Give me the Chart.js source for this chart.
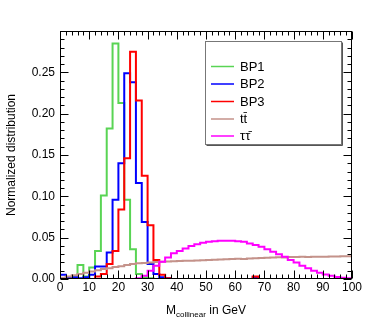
<!DOCTYPE html>
<html>
<head>
<meta charset="utf-8">
<script src="https://cdn.jsdelivr.net/npm/chart.js@4.4.1/dist/chart.umd.min.js"></script>
<style>
html,body{margin:0;padding:0;background:#fff;}
#wrap{width:392px;height:327px;}
</style>
</head>
<body>
<div id="wrap"><canvas id="c" width="392" height="327"></canvas></div>
<script>
// Bin edges in GeV (2 GeV bins from 0 to 100)
const binEdges = [0,2,4,6,8,10,12,14,16,18,20,22,24,26,28,30,32,34,36,38,40,42,44,46,48,50,52,54,56,58,60,62,64,66,68,70,72,74,76,78,80,82,84,86,88,90,92,94,96,98,100];

const seriesLabels = ["BP1", "BP2", "BP3", "tt\u0304", "\u03c4\u03c4\u0304"];

const bp1 = [0.001,0.001,0.002,0.017,0.003,0.014,0.034,0.101,0.182,0.285,
             0.213,0.096,0.036,0.006,0.002,0.001,0,0,0,0,
             0,0,0,0,0,0,0,0,0,0,
             0,0,0,0,0,0,0,0,0,0,
             0,0,0,0,0,0,0,0,0,0];
const bp2 = [0.005,0.002,0.002,0.001,0.002,0.005,0.015,0.015,0.032,0.096,
             0.140,0.249,0.238,0.116,0.069,0.018,0.006,0.002,0.001,0,
             0,0,0,0,0,0,0,0,0,0,
             0,0,0,0.002,0,0,0,0,0,0,
             0,0,0,0,0,0,0,0,0,0];
const bp3 = [0,0,0,0,0,0,0.003,0.006,0.018,0.034,
             0.084,0.146,0.275,0.216,0.125,0.065,0.023,0.005,0.001,0,
             0,0,0,0,0,0,0,0,0,0,
             0,0,0,0.003,0,0,0,0,0,0,
             0,0,0,0,0,0,0,0,0,0];
const ttbar = [0.0015,0.003,0.0045,0.006,0.0075,0.009,0.0105,0.012,0.013,0.0145,
               0.0155,0.0168,0.018,0.019,0.0195,0.020,0.0205,0.021,0.0212,0.0215,
               0.0218,0.022,0.0222,0.0225,0.0228,0.023,0.0232,0.0235,0.0238,0.0242,
               0.0245,0.0242,0.0248,0.025,0.0255,0.0258,0.026,0.0262,0.026,0.0265,
               0.0265,0.0268,0.0265,0.027,0.0268,0.027,0.0272,0.0272,0.0275,0.0275];
const tautau = [0,0,0,0,0,0,0,0,0,0,
                0,0,0,0.001,0.004,0.010,0.016,0.021,0.026,0.031,
                0.034,0.037,0.040,0.042,0.044,0.045,0.0458,0.0462,0.0464,0.0462,
                0.0458,0.045,0.043,0.041,0.039,0.036,0.033,0.030,0.027,0.023,
                0.020,0.016,0.013,0.010,0.0075,0.0055,0.0038,0.0025,0.0015,0.0008];

const xTicks = [0,10,20,30,40,50,60,70,80,90,100];
const yTicks = [0,0.05,0.10,0.15,0.20,0.25];

const colors = ["#59d454", "#0000ff", "#ff0000", "#c4928a", "#ff00ff"];
const seriesValues = [bp1, bp2, bp3, ttbar, tautau];
const drawOrder = [5, 4, 3, 2, 1];

function histPoints(vals){
  return binEdges.map((e, i) => ({x: e, y: vals[Math.min(i, vals.length - 1)]}));
}

const FONT = "'Liberation Sans', Arial, Helvetica, sans-serif";

const framePlugin = {
  id: 'frame',
  afterDatasetsDraw(chart){
    const {ctx, chartArea: a, scales: {x, y}} = chart;
    ctx.save();
    ctx.strokeStyle = '#000';
    ctx.lineWidth = 1;
    const L = Math.round(a.left) + 0.5, R = Math.round(a.right) - 0.5;
    const T = Math.round(a.top) + 0.5, B = Math.round(a.bottom) - 0.5;
    ctx.strokeRect(L, T, R - L, B - T);
    ctx.beginPath();
    for (let k = 0; k <= 50; k++) {
      const v = k * 2;
      const px = Math.round(x.getPixelForValue(v)) + 0.5;
      const len = (k % 5 === 0) ? 8 : 4;
      ctx.moveTo(px, B); ctx.lineTo(px, B - len);
      ctx.moveTo(px, T); ctx.lineTo(px, T + len);
    }
    for (let k = 0; k <= 29; k++) {
      const v = k * 0.01;
      const py = Math.round(y.getPixelForValue(v)) + 0.5;
      const len = (k % 5 === 0) ? 8 : 4;
      ctx.moveTo(L, py); ctx.lineTo(L + len, py);
      ctx.moveTo(R, py); ctx.lineTo(R - len, py);
    }
    ctx.stroke();
    ctx.restore();
  },
  afterDraw(chart){
    const {ctx, chartArea: a} = chart;
    ctx.save();
    ctx.fillStyle = '#000';
    // X title with subscript
    const p1 = 'M', p2 = 'collinear', p3 = ' in GeV';
    ctx.font = '12px ' + FONT;
    const w1 = ctx.measureText(p1).width, w3 = ctx.measureText(p3).width;
    ctx.font = '8px ' + FONT;
    const w2 = ctx.measureText(p2).width;
    const total = w1 + w2 + w3;
    let sx = (a.left + a.right) / 2 - total / 2;
    const by = 314;
    ctx.textBaseline = 'alphabetic';
    ctx.textAlign = 'left';
    ctx.font = '12px ' + FONT;
    ctx.fillText(p1, sx, by); sx += w1;
    ctx.font = '8px ' + FONT;
    ctx.fillText(p2, sx, by + 3); sx += w2;
    ctx.font = '12px ' + FONT;
    ctx.fillText(p3, sx, by);
    // Y title
    ctx.save();
    ctx.translate(12, (a.top + a.bottom) / 2);
    ctx.rotate(-Math.PI / 2);
    ctx.textAlign = 'center';
    ctx.textBaseline = 'middle';
    ctx.font = '12px ' + FONT;
    ctx.fillText('Normalized distribution', 0, 0);
    ctx.restore();
    // Legend
    const lx = 205.5, ly = 41.5, lw = 136, lh = 103;
    ctx.fillStyle = '#fff';
    ctx.fillRect(lx, ly, lw, lh);
    ctx.strokeStyle = '#777';
    ctx.lineWidth = 1;
    ctx.strokeRect(lx, ly, lw, lh);
    ctx.strokeStyle = '#555';
    ctx.beginPath();
    ctx.moveTo(lx + lw + 1, ly + 1); ctx.lineTo(lx + lw + 1, ly + lh + 1); ctx.lineTo(lx + 1, ly + lh + 1);
    ctx.stroke();
    const ys = [66.5, 84, 101.5, 119, 136];
    chart.data.datasets.forEach((ds, i) => {
      ctx.strokeStyle = ds.borderColor;
      ctx.lineWidth = 1.5;
      ctx.beginPath();
      ctx.moveTo(211, ys[i]); ctx.lineTo(234, ys[i]);
      ctx.stroke();
      ctx.fillStyle = '#000';
      ctx.font = '13px ' + FONT;
      ctx.textAlign = 'left';
      ctx.textBaseline = 'middle';
      ctx.fillText(ds.label, 240, ys[i] + 0.5);
    });
    ctx.restore();
  }
};

new Chart(document.getElementById('c'), {
  type: 'line',
  data: {
    datasets: seriesValues.map((vals, i) => ({
      label: seriesLabels[i],
      data: histPoints(vals),
      borderColor: colors[i],
      backgroundColor: colors[i],
      borderWidth: 2,
      pointRadius: 0,
      stepped: 'before',
      fill: false,
      order: drawOrder[i]
    }))
  },
  options: {
    responsive: false,
    animation: false,
    devicePixelRatio: 1,
    layout: {padding: {left: 0, right: 40, top: 31, bottom: 0}},
    plugins: {legend: {display: false}, tooltip: {enabled: false}},
    scales: {
      x: {
        type: 'linear', min: 0, max: 100,
        grid: {display: false, drawTicks: false},
        border: {display: false},
        afterBuildTicks: s => { s.ticks = xTicks.map(v => ({value: v})); },
        afterFit: s => { s.height = 48; },
        ticks: {color: '#000', padding: 1, maxRotation: 0, autoSkip: false,
                font: {family: FONT, size: 12}, callback: v => String(v)}
      },
      y: {
        type: 'linear', min: 0, max: 0.3,
        grid: {display: false, drawTicks: false},
        border: {display: false},
        afterBuildTicks: s => { s.ticks = yTicks.map(v => ({value: v})); },
        afterFit: s => { s.width = 60; },
        ticks: {color: '#000', padding: 5, autoSkip: false,
                font: {family: FONT, size: 12}, callback: v => Number(v).toFixed(2)}
      }
    }
  },
  plugins: [framePlugin]
});
</script>
</body>
</html>
